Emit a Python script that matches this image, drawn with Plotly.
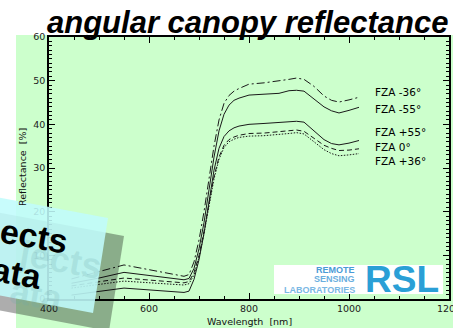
import plotly.graph_objects as go

# ---------------- data ----------------
wavelength = [445, 500, 550, 670, 680, 690, 700, 710, 720, 730, 740, 750, 760, 770, 780,
              800, 830, 860, 880, 895, 910, 930, 950, 965, 980, 1000, 1020]

fza_m36 = [4.6, 6.2, 7.8, 5.2, 5.6, 8.5, 13.5, 20.0, 27.5, 35.0, 41.0, 44.8, 46.6, 47.6, 48.2,
           49.2, 49.5, 49.9, 50.3, 50.6, 50.3, 48.7, 46.5, 45.5, 45.1, 45.6, 46.2]
fza_m55 = [3.6, 4.8, 6.1, 4.4, 4.7, 7.0, 11.5, 17.5, 25.0, 32.5, 38.5, 42.3, 44.4, 45.5, 46.0,
           46.7, 46.9, 47.1, 47.7, 47.8, 47.6, 45.8, 44.0, 43.1, 42.6, 43.2, 43.9]
fza_p55 = [0.9, 1.8, 2.5, 1.5, 1.8, 4.5, 9.0, 15.0, 22.5, 29.5, 34.5, 37.2, 38.5, 39.2, 39.6,
           40.0, 40.2, 40.4, 40.7, 40.7, 40.5, 38.5, 36.5, 35.6, 35.3, 35.7, 36.3]
fza_0 = [3.0, 3.9, 4.8, 3.7, 4.0, 6.0, 10.0, 15.5, 22.0, 28.0, 32.5, 35.2, 36.5, 37.1, 37.5,
         37.9, 38.0, 38.3, 38.6, 38.7, 38.4, 36.8, 35.2, 34.5, 34.0, 34.1, 34.4]
fza_p36 = [2.5, 3.3, 4.1, 3.2, 3.5, 5.5, 9.5, 15.0, 21.5, 27.5, 32.0, 34.7, 36.0, 36.6, 37.0,
           37.3, 37.4, 37.6, 37.9, 38.1, 37.8, 36.0, 34.2, 33.3, 32.8, 33.0, 33.3]

series_names = ["FZA -36°", "FZA -55°", "FZA +55°", "FZA 0°", "FZA +36°"]
series_values = [fza_m36, fza_m55, fza_p55, fza_0, fza_p36]
series_dash = ["8px,3px,2px,3px", "solid", "solid", "5px,3px", "1.5px,1.5px"]
label_y = [47.4, 43.5, 38.2, 34.8, 31.6]

x_ticks = [400, 600, 800, 1000, 1200]
y_ticks = [0, 10, 20, 30, 40, 50, 60]

# ---------------- geometry helpers ----------------
W, H = 453, 328
L, R, T, B = 49, 449, 37, 299


def px(x):
    return (x - L) / (R - L)


def py(y):
    return (B - y) / (B - T)


def path(points):
    s = "M " + " L ".join(f"{px(a):.4f},{py(b):.4f}" for a, b in points) + " Z"
    return s


fig = go.Figure()
for name, vals, dash in zip(series_names, series_values, series_dash):
    fig.add_trace(go.Scatter(x=wavelength, y=vals, mode="lines", name=name,
                             line=dict(color="#1a1a1a", width=1, dash=dash),
                             showlegend=False))

GREEN = "#ccffcc"
tickfont = dict(family="DejaVu Sans", size=9.5, color="#222222")

shapes = [
    # green panel behind the plot
    dict(type="rect", xref="paper", yref="paper", x0=px(16), x1=px(470), y0=py(340), y1=py(35),
         fillcolor=GREEN, line=dict(width=0), layer="below"),
    # RSL logo box
    dict(type="rect", xref="paper", yref="paper", x0=px(274), x1=px(443), y0=py(294), y1=py(265),
         fillcolor="white", line=dict(width=0), layer="above"),
    # banner shadow
    dict(type="path", xref="paper", yref="paper",
         path=path([(-44, 204.4), (124, 236), (109, 331), (-59, 299.4)]),
         fillcolor="rgba(0,0,0,0.32)", line=dict(width=0), layer="above"),
    # banner
    dict(type="path", xref="paper", yref="paper",
         path=path([(-60, 186.4), (108, 218), (93, 313), (-75, 281.4)]),
         fillcolor="rgba(192,252,252,0.88)", line=dict(width=0), layer="above"),
]

annotations = []
for name, yv in zip(series_names, label_y):
    annotations.append(dict(x=1047, y=yv, xref="x", yref="y", text=name, showarrow=False,
                            xanchor="left", yanchor="middle",
                            font=dict(family="DejaVu Sans", size=10.5, color="black")))

annotations += [
    dict(x=px(247.5), y=py(22.5), xref="paper", yref="paper", text="angular canopy reflectance",
         showarrow=False, xanchor="center", yanchor="middle",
         font=dict(family="Liberation Sans", size=31, color="black", weight="bold", style="italic")),
    dict(x=0.5, y=py(321), xref="paper", yref="paper", text="Wavelength  [nm]", showarrow=False,
         xanchor="center", yanchor="middle", font=dict(family="DejaVu Sans", size=9.5, color="#111")),
    dict(x=px(22), y=py(167), xref="paper", yref="paper", text="Reflectance  [%]", showarrow=False,
         textangle=-90, xanchor="center", yanchor="middle",
         font=dict(family="DejaVu Sans", size=9.5, color="#111")),
    # logo text
    dict(x=px(402), y=py(279), xref="paper", yref="paper", text="RSL", showarrow=False,
         xanchor="center", yanchor="middle",
         font=dict(family="Liberation Sans", size=37, color="#2a9fd6", weight="bold")),
    dict(x=px(357), y=py(270), xref="paper", yref="paper", text="REMOTE", showarrow=False,
         xanchor="right", yanchor="middle",
         font=dict(family="Liberation Sans", size=9, color="#4a9ad6", weight="bold")),
    dict(x=px(357), y=py(278.5), xref="paper", yref="paper", text="SENSING", showarrow=False,
         xanchor="right", yanchor="middle",
         font=dict(family="Liberation Sans", size=9, color="#6aaede", weight="bold")),
    dict(x=px(357), y=py(290), xref="paper", yref="paper", text="LABORATORIES", showarrow=False,
         xanchor="right", yanchor="middle",
         font=dict(family="Liberation Sans", size=9, color="#7ab8e4", weight="bold")),
    # banner ghost text
    dict(x=px(60), y=py(259), xref="paper", yref="paper", text="jects", showarrow=False,
         textangle=10, xanchor="center", yanchor="middle",
         font=dict(family="Liberation Sans", size=36, color="rgba(110,170,170,0.22)", weight="bold")),
    dict(x=px(36), y=py(294), xref="paper", yref="paper", text="ata", showarrow=False,
         textangle=10, xanchor="center", yanchor="middle",
         font=dict(family="Liberation Sans", size=36, color="rgba(110,170,170,0.22)", weight="bold")),
    # banner text
    dict(x=px(34), y=py(236), xref="paper", yref="paper", text="ects", showarrow=False,
         textangle=10, xanchor="center", yanchor="middle",
         font=dict(family="Liberation Sans", size=34, color="black", weight="bold")),
    dict(x=px(17), y=py(273), xref="paper", yref="paper", text="ata", showarrow=False,
         textangle=10, xanchor="center", yanchor="middle",
         font=dict(family="Liberation Sans", size=34, color="black", weight="bold")),
]

axis_common = dict(showline=True, linecolor="black", linewidth=1.5, mirror="allticks",
                   ticks="inside", ticklen=6, tickwidth=1, tickcolor="black",
                   showgrid=False, zeroline=False, tickfont=tickfont, automargin=False,
                   ticklabeloverflow="allow")

fig.update_layout(
    width=W, height=H, autosize=False,
    margin=dict(l=L, r=W - R, t=T, b=H - B, pad=0),
    paper_bgcolor="white", plot_bgcolor=GREEN,
    xaxis=dict(range=[400, 1200], tickvals=x_ticks, ticktext=[str(v) for v in x_ticks],
               minor=dict(dtick=50, tick0=400, ticks="inside", ticklen=3, tickcolor="black"),
               **axis_common),
    yaxis=dict(range=[0, 60], tickvals=y_ticks, ticktext=[str(v) for v in y_ticks],
               minor=dict(dtick=1, tick0=0, ticks="inside", ticklen=3, tickcolor="black"),
               **axis_common),
    shapes=shapes, annotations=annotations,
)

fig.write_html("out.html",
               config={"displayModeBar": False},
               post_script="document.body.style.margin='0';document.body.style.padding='0';"
                           "document.body.style.overflow='hidden';")
